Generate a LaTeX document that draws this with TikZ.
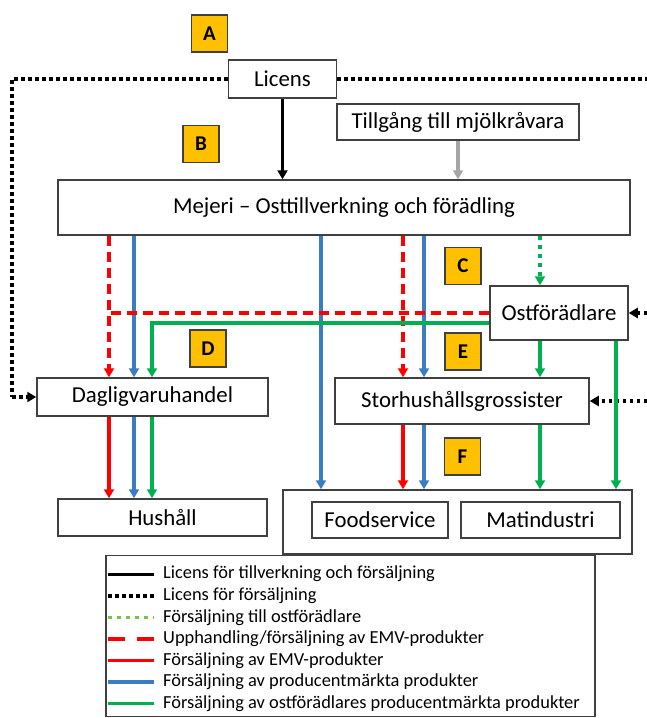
\documentclass[tikz,border=0pt]{standalone}
\usepackage{fontspec}
\setmainfont{Carlito}
\usetikzlibrary{arrows.meta}
\definecolor{emvred}{HTML}{FF0000}
\definecolor{prodblue}{HTML}{3A7DC2}
\definecolor{ostgreen}{HTML}{00B050}
\definecolor{paleg}{HTML}{7DBF4F}
\definecolor{tagfill}{HTML}{FFC000}
\definecolor{edge}{HTML}{404040}
\tikzset{
  actor/.style={draw=edge, line width=1.5pt, fill=white, inner sep=0pt,
    font=\fontsize{22.8}{25}\selectfont},
  tagbox/.style={draw=edge, line width=1.3pt, fill=tagfill, inner sep=0pt,
    minimum width=36pt, minimum height=37pt, font=\bfseries\fontsize{21}{24}\selectfont},
  tip/.style={-{Triangle[width=10pt,length=9pt]}},
  lic/.style={line width=3.2pt, black},
  licdot/.style={line width=3.6pt, black, dash pattern=on 3.5pt off 3.5pt},
  tillost/.style={line width=3.6pt, ostgreen, dash pattern=on 4pt off 5pt},
  tillostleg/.style={tillost, paleg},
  emvdash/.style={line width=3.4pt, emvred, dash pattern=on 10pt off 6pt},
  emvdashleg/.style={emvdash, dash pattern=on 17pt off 12pt},
  emv/.style={line width=3.4pt, emvred},
  prod/.style={line width=3.4pt, prodblue},
  ostprod/.style={line width=3.4pt, ostgreen},
  legtext/.style={anchor=west, inner sep=0pt, font=\fontsize{18.4}{20}\selectfont}
}
\begin{document}
\begin{tikzpicture}[x=1pt, y=-1pt]
  \useasboundingbox (0,0) rectangle (647,718);
  % actors
  \node[actor, minimum width=108pt, minimum height=38pt] (licens) at (282.5,79) {Licens};
  \node[actor, minimum width=242pt, minimum height=36pt] (tillgang) at (458,122) {Tillgång till mjölkråvara};
  \node[actor, minimum width=572pt, minimum height=55pt] (mejeri) at (344,207.5) {Mejeri -- Osttillverkning och förädling};
  \node[actor, minimum width=138pt, minimum height=54pt] (ost) at (559,313) {Ostförädlare};
  \node[actor, minimum width=231pt, minimum height=38pt] (dagl) at (152.5,397) {Dagligvaruhandel};
  \node[actor, minimum width=254pt, minimum height=46pt] (stor) at (462,401) {Storhushållsgrossister};
  \node[actor, minimum width=209pt, minimum height=37pt] (hush) at (162.5,517.5) {Hushåll};
  \node[actor, minimum width=349pt, minimum height=64pt] (kund) at (457.5,522) {};
  \node[actor, minimum width=136pt, minimum height=36pt] (food) at (380,520) {Foodservice};
  \node[actor, minimum width=159pt, minimum height=36pt] (mat) at (540.5,520) {Matindustri};
  % letter tags
  \node[tagbox] (tA) at (209.5,33.5) {A};
  \node[tagbox] (tB) at (201,144) {B};
  \node[tagbox] (tC) at (463,266) {C};
  \node[tagbox] (tD) at (208,348.5) {D};
  \node[tagbox] (tE) at (463,351.5) {E};
  \node[tagbox] (tF) at (462.5,456.5) {F};
  % lanes
  \coordinate (xa) at (109,0);
  \coordinate (xb) at (134,0);
  \coordinate (xc) at (152,0);
  \coordinate (xd) at (321,0);
  \coordinate (xe) at (403,0);
  \coordinate (xf) at (424,0);
  \coordinate (xg) at (540,0);
  \coordinate (xh) at (616,0);
  \coordinate (farleft) at (12,0);
  \coordinate (farright) at (647,0);
  % licences
  \draw[lic, tip] (licens) -- (licens |- mejeri.north);
  \draw[line width=3.2pt, black!35, tip] (tillgang) -- (tillgang |- mejeri.north);
  \draw[licdot] (licens.west) -| (farleft |- dagl.west);
  \draw[licdot, tip] (farleft |- dagl.west) -- (dagl.west);
  \draw[licdot] (licens.east) -- (licens.east -| farright);
  \draw[licdot, tip] (ost.east -| farright) -- (ost.east);
  \draw[licdot, tip] (stor.east -| farright) -- (stor.east);
  % from the dairy
  \draw[emvdash, tip] (mejeri.south -| xa) -- (dagl.north -| xa);
  \draw[prod, tip] (mejeri.south -| xb) -- (dagl.north -| xb);
  \draw[prod, tip] (mejeri.south -| xd) -- (kund.north -| xd);
  \draw[emvdash, tip] (mejeri.south -| xe) -- (stor.north -| xe);
  \draw[prod, tip] (mejeri.south -| xf) -- (stor.north -| xf);
  \draw[tillost, tip] (mejeri.south -| xg) -- (ost.north -| xg);
  % from the cheese refiner
  \draw[emvdash] (ost.west) -- (ost.west -| xa);
  \draw[ostprod, tip] ([yshift=-10pt]ost.west) -| (dagl.north -| xc);
  \draw[ostprod, tip] (ost.south -| xg) -- (stor.north -| xg);
  \draw[ostprod, tip] (ost.south -| xh) -- (kund.north -| xh);
  % to the end customers
  \draw[emv, tip] (dagl.south -| xa) -- (hush.north -| xa);
  \draw[prod, tip] (dagl.south -| xb) -- (hush.north -| xb);
  \draw[ostprod, tip] (dagl.south -| xc) -- (hush.north -| xc);
  \draw[emv, tip] (stor.south -| xe) -- (kund.north -| xe);
  \draw[prod, tip] (stor.south -| xf) -- (kund.north -| xf);
  \draw[ostprod, tip] (stor.south -| xg) -- (kund.north -| xg);
  % legend
  \node[draw=edge, line width=1.5pt, minimum width=489pt, minimum height=161pt,
    inner sep=0pt] (legend) at (350.5,636) {};
  \foreach \ls/\txt [count=\i] in {
      lic/Licens för tillverkning och försäljning,
      licdot/Licens för försäljning,
      tillostleg/Försäljning till ostförädlare,
      emvdashleg/Upphandling\slash försäljning av EMV-produkter,
      emv/Försäljning av EMV-produkter,
      prod/Försäljning av producentmärkta produkter,
      ostprod/Försäljning av ostförädlares producentmärkta produkter} {
    \coordinate (row\i) at (108,{552.5+21.6*\i});
    \draw[\ls] (row\i) -- ++(46,0);
    \node[legtext] (leg\i) at ([xshift=55pt]row\i) {\txt};
  }
\end{tikzpicture}
\end{document}
